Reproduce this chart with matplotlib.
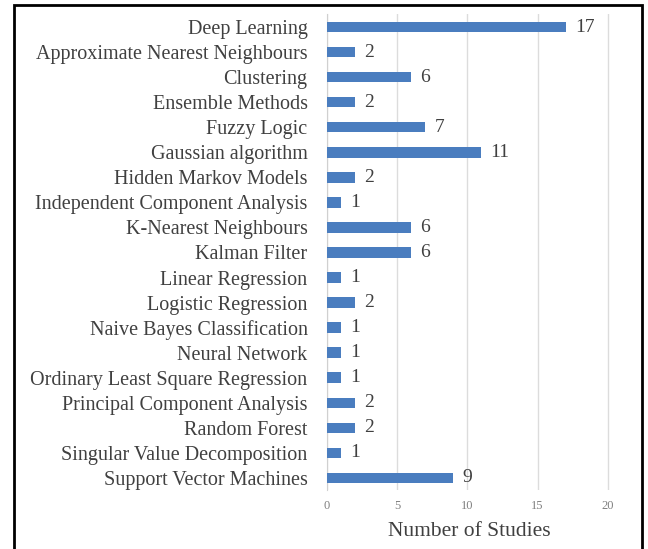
import matplotlib.pyplot as plt
from matplotlib.patches import Rectangle

methods = ['Deep Learning', 'Approximate Nearest Neighbours', 'Clustering',
           'Ensemble Methods', 'Fuzzy Logic', 'Gaussian algorithm',
           'Hidden Markov Models', 'Independent Component Analysis',
           'K-Nearest Neighbours', 'Kalman Filter', 'Linear Regression',
           'Logistic Regression', 'Naive Bayes Classification', 'Neural Network',
           'Ordinary Least Square Regression', 'Principal Component Analysis',
           'Random Forest', 'Singular Value Decomposition',
           'Support Vector Machines']
studies = [17, 2, 6, 2, 7, 11, 2, 1, 6, 6, 1, 2, 1, 1, 1, 2, 2, 1, 9]
xticks = [0, 5, 10, 15, 20]

plt.rcParams['font.family'] = ['Liberation Serif', 'DejaVu Serif']

fig = plt.figure(figsize=(6.48, 5.49), dpi=100)
ax = fig.add_axes([0.5046, 0.1066, 0.4398, 0.867])

pos = list(range(len(methods)))
ax.barh(pos, studies, height=0.42, color='#4a7dbf', zorder=3)
for p, v in zip(pos, studies):
    ax.text(v + 0.65, p, str(v), va='center', ha='left', fontsize=14,
            color='#404040')

ax.set_ylim(len(methods) - 0.5, -0.5)
ax.set_xlim(0, 20.3)
ax.set_yticks(pos)
ax.set_yticklabels(methods, fontsize=14.5, color='#404040')
ax.set_xticks(xticks)
ax.set_xticklabels([str(t) for t in xticks], fontsize=9, color='#808080')
ax.tick_params(axis='y', length=0, pad=14)
ax.tick_params(axis='x', length=0, pad=7)
ax.xaxis.grid(True, color='#dcdcdc', linewidth=1, zorder=0)
for side in ['top', 'right', 'bottom']:
    ax.spines[side].set_visible(False)
ax.spines['left'].set_color('#d0d0d0')
ax.set_xlabel('Number of Studies', fontsize=15.5, color='#404040', labelpad=7)

# outer frame
fig.patches.append(Rectangle((0.021, -0.05), 0.969, 1.041, transform=fig.transFigure,
                             fill=False, edgecolor='black', linewidth=2))

fig.savefig('out.png', dpi=100)
